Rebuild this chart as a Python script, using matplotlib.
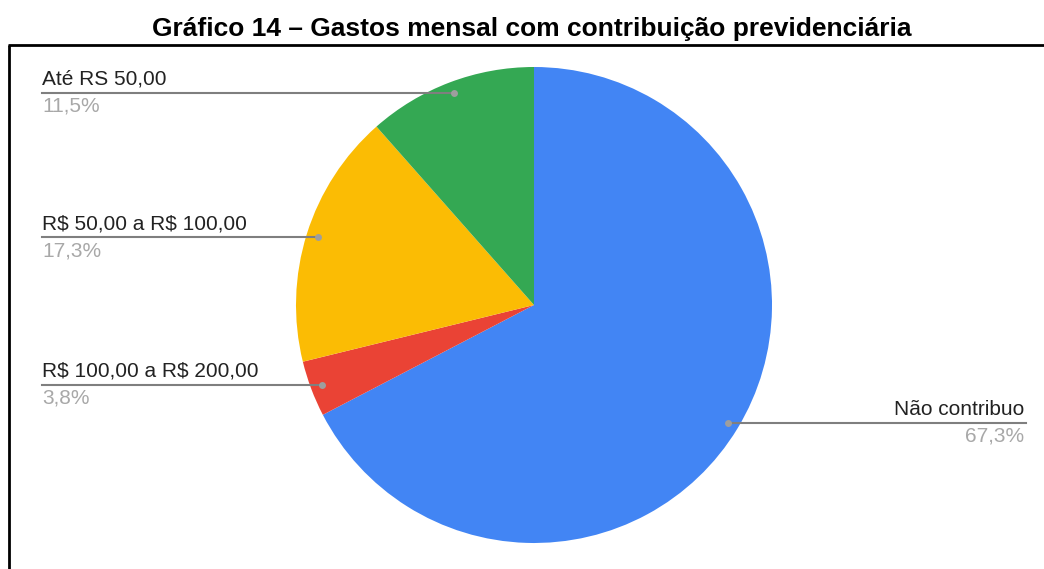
import matplotlib
matplotlib.use("Agg")
import matplotlib.pyplot as plt
import numpy as np

plt.rcParams["font.family"] = ["Liberation Sans", "DejaVu Sans"]
plt.rcParams["text.parse_math"] = False

TITLE = "Gráfico 14 – Gastos mensal com contribuição previdenciária"
categories = ["Não contribuo", "R$ 100,00 a R$ 200,00", "R$ 50,00 a R$ 100,00", "Até RS 50,00"]
shares = [67.3, 3.8, 17.3, 11.5]
colors = ["#4285F4", "#EA4335", "#FBBC04", "#34A853"]

W, H, DPI = 1044, 569, 100
CX, CY, R = 534, 305, 238   # pie centre / radius in pixels

fig = plt.figure(figsize=(W / DPI, H / DPI), dpi=DPI)

# pie axes sized so that radius 1 == R pixels
pie_ax = fig.add_axes([(CX - R) / W, (H - CY - R) / H, 2 * R / W, 2 * R / H])
wedges, _ = pie_ax.pie(shares, colors=colors, startangle=90, counterclock=False,
                       radius=1, wedgeprops=dict(linewidth=0))
pie_ax.set_xlim(-1, 1); pie_ax.set_ylim(-1, 1); pie_ax.set_aspect("equal"); pie_ax.axis("off")

# full-figure overlay in pixel coordinates (y downwards), drawn above the pie
over = fig.add_axes([0, 0, 1, 1])
over.set_xlim(0, W); over.set_ylim(H, 0); over.axis("off")
over.patch.set_alpha(0)

# frame around the chart: top and left edges only
over.plot([8, W], [45, 45], color="black", lw=2, solid_capstyle="butt")
over.plot([9, 9], [45, H], color="black", lw=2, solid_capstyle="butt")

over.text(532, 29, TITLE, ha="center", va="center", fontsize=19, fontweight="bold",
          color="black")

LEFT_X, RIGHT_X = 42, 1026
for w, name, val in zip(wedges, categories, shares):
    mid = np.deg2rad((w.theta1 + w.theta2) / 2)
    px = CX + 0.953 * R * np.cos(mid)
    py = CY - 0.953 * R * np.sin(mid)
    if px < CX:
        over.plot([LEFT_X, px], [py, py], color="#7f7f7f", lw=1.5, zorder=3)
        tx, ha = LEFT_X, "left"
    else:
        over.plot([px, RIGHT_X], [py, py], color="#7f7f7f", lw=1.5, zorder=3)
        tx, ha = RIGHT_X - 2, "right"
    over.plot(px, py, "o", ms=5, color="#9e9e9e", mec="none", zorder=4)
    over.text(tx, py - 4, name, ha=ha, va="bottom", fontsize=15, color="#222222")
    over.text(tx, py + 4, f"{val:.1f}%".replace(".", ","), ha=ha, va="top",
              fontsize=15, color="#a8a8a8")

fig.savefig("out.png", dpi=DPI, facecolor="white")
